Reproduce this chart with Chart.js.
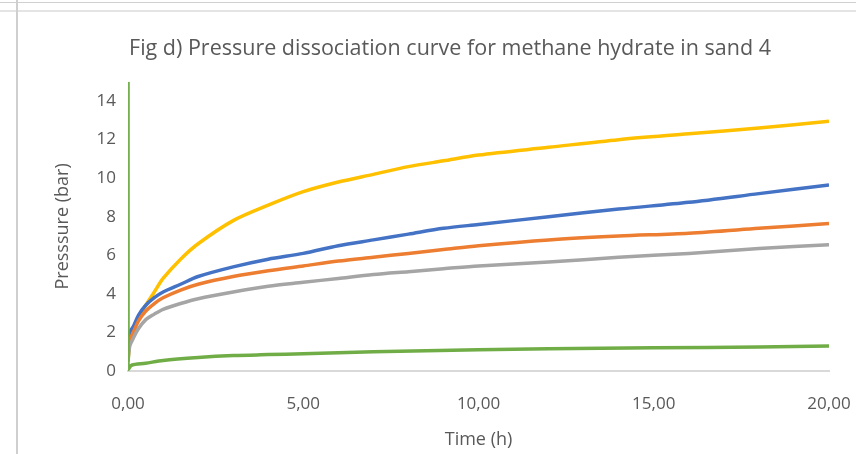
<!DOCTYPE html>
<html>
<head>
<meta charset="utf-8">
<script src="https://cdn.jsdelivr.net/npm/chart.js@4/dist/chart.umd.min.js"></script>
<style>
  html, body { margin: 0; padding: 0; background: #fff; overflow: hidden; }
  body { width: 856px; height: 454px; position: relative; }
  .frame-top { position: absolute; left: 0; top: 2px; width: 856px; height: 7px;
    border-top: 1px solid #d0d0d0; border-bottom: 2px solid #e4e4e4; }
  .frame-left { position: absolute; left: 16px; top: 0; width: 2px; height: 454px; background: #cfcfcf; }
  #wrap { position: absolute; left: 18px; top: 10px; width: 864px; height: 444px; }
</style>
</head>
<body>
<div class="frame-top"></div>
<div class="frame-left"></div>
<div id="wrap"><canvas id="myChart"></canvas></div>
<script>
// time in hours, shared by the four upper curves
const timeH = [0, 0.05, 0.15, 0.3, 0.5, 0.75, 1, 1.5, 2, 3, 4, 5, 6, 7, 8, 9, 10, 12, 14, 16, 18, 20];
const yellowP = [0.5, 1.5, 2.0, 2.8, 3.4, 4.1, 4.8, 5.8, 6.6, 7.8, 8.6, 9.3, 9.8, 10.2, 10.6, 10.9, 11.2, 11.6, 12.0, 12.3, 12.6, 12.95];
const blueP = [0.8, 2.0, 2.3, 2.9, 3.4, 3.8, 4.1, 4.5, 4.9, 5.4, 5.8, 6.1, 6.5, 6.8, 7.1, 7.4, 7.6, 8.0, 8.4, 8.75, 9.2, 9.65];
const orangeP = [0.6, 1.6, 2.0, 2.6, 3.1, 3.5, 3.8, 4.2, 4.5, 4.9, 5.2, 5.45, 5.7, 5.9, 6.1, 6.3, 6.5, 6.8, 7.0, 7.15, 7.4, 7.65];
const grayP = [0.5, 1.3, 1.7, 2.2, 2.65, 2.95, 3.2, 3.5, 3.75, 4.1, 4.4, 4.6, 4.8, 5.0, 5.15, 5.3, 5.45, 5.65, 5.9, 6.1, 6.35, 6.55];
// green curve has its own time base (starts with the spike at t = 0)
const greenTime = [0, 0, 0.1, 0.5, 1, 2, 3, 4, 5, 7, 10, 12, 15, 18, 20];
const greenP = [15, 0.1, 0.3, 0.4, 0.55, 0.7, 0.8, 0.85, 0.9, 1.0, 1.1, 1.15, 1.2, 1.25, 1.3];

const xTicks = [0, 5, 10, 15, 20];
const yTicks = [0, 2, 4, 6, 8, 10, 12, 14];

function pts(xs, ys) {
  return xs.map(function (x, i) { return { x: x, y: ys[i] }; });
}

function line(label, xs, ys, color) {
  return {
    label: label,
    data: pts(xs, ys),
    borderColor: color,
    backgroundColor: color,
    borderWidth: 3.5,
    pointRadius: 0,
    showLine: true,
    tension: 0.3,
  };
}

const txt = "#595959";
const ctx = document.getElementById("myChart");
const myChart = new Chart(ctx, {
  type: "scatter",
  data: {
    datasets: [
      line("green", greenTime, greenP, "#70AD47"),
      line("gray", timeH, grayP, "#A5A5A5"),
      line("orange", timeH, orangeP, "#ED7D31"),
      line("blue", timeH, blueP, "#4472C4"),
      line("yellow", timeH, yellowP, "#FFC000"),
    ],
  },
  options: {
    responsive: true,
    maintainAspectRatio: false,
    animation: false,
    layout: { padding: { left: 53, right: 53, top: 4, bottom: 3 } },
    plugins: {
      legend: { display: false },
      tooltip: { enabled: false },
      title: {
        display: true,
        text: "Fig d) Pressure dissociation curve for methane hydrate in sand 4",
        color: txt,
        font: { family: "Open Sans", size: 21.5, weight: "normal" },
        padding: { top: 22, bottom: 20 },
      },
    },
    scales: {
      x: {
        type: "linear",
        min: 0,
        max: 20,
        afterBuildTicks: function (axis) {
          axis.ticks = xTicks.map(function (v) { return { value: v }; });
        },
        grid: { display: false, drawTicks: false },
        border: { display: true, color: "#d9d9d9", width: 2 },
        ticks: {
          color: txt,
          padding: 23,
          font: { family: "Open Sans", size: 17 },
          callback: function (v) { return v.toFixed(2).replace(".", ","); },
        },
        title: {
          display: true,
          text: "Time (h)",
          color: txt,
          font: { family: "Open Sans", size: 18 },
          padding: { top: -8, bottom: 0 },
        },
      },
      y: {
        min: 0,
        max: 15,
        afterBuildTicks: function (axis) {
          axis.ticks = yTicks.map(function (v) { return { value: v }; });
        },
        grid: { display: false, drawTicks: false },
        border: { display: false },
        ticks: {
          color: txt,
          padding: 12,
          font: { family: "Open Sans", size: 17 },
        },
        title: {
          display: true,
          text: "Presssure (bar)",
          color: txt,
          font: { family: "Open Sans", size: 18 },
          padding: { top: -19, bottom: 11 },
        },
      },
    },
  },
});
</script>
</body>
</html>
